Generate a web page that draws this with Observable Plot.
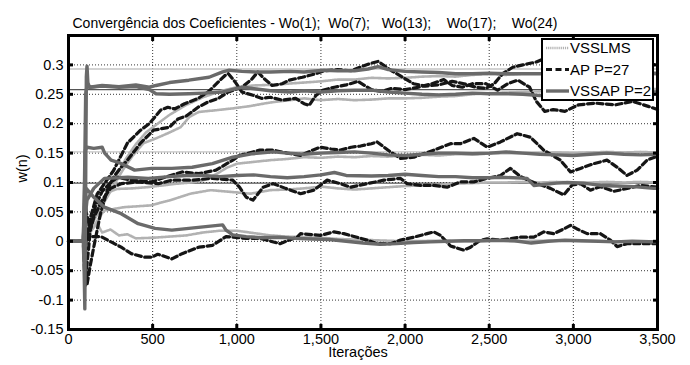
<!DOCTYPE html>
<html><head><meta charset="utf-8">
<script src="https://cdn.jsdelivr.net/npm/d3@7"></script>
<script src="https://cdn.jsdelivr.net/npm/@observablehq/plot@0.6"></script>
<style>
body{margin:0;background:#fff;}
#wrap{position:relative;width:690px;height:365px;font-family:"Liberation Sans",Arial,sans-serif;}
#legend{position:absolute;left:541px;top:38px;}
</style></head>
<body><div id="wrap"></div>
<script>
// ---- axis ticks ----
const xTicks = [0, 500, 1000, 1500, 2000, 2500, 3000, 3500];
const yTicks = [-0.15, -0.1, -0.05, 0, 0.05, 0.1, 0.15, 0.2, 0.25, 0.3];
const trueValues = [0.293, 0.258, 0.152, 0.099];
const titleText = "Convergência dos Coeficientes - Wo(1);\u00a0 Wo(7);\u00a0\u00a0 Wo(13);\u00a0\u00a0\u00a0 Wo(17);\u00a0\u00a0\u00a0 Wo(24)";
const algorithms = ["VSSLMS", "AP P=27", "VSSAP P=2"];

// ---- VSSLMS (iteration, w) ----
const vsslms_a = [[0,0],[90,0],[100,0.03],[130,0.02],[170,0.05],[220,0.08],[280,0.11],[340,0.14],[400,0.165],[460,0.185],[530,0.2],[600,0.215],[700,0.232],[800,0.245],[900,0.255],[1000,0.262],[1100,0.265],[1200,0.266],[1300,0.268],[1400,0.27],[1500,0.272],[1600,0.275],[1700,0.275],[1800,0.278],[1900,0.277],[2000,0.278],[2100,0.28],[2200,0.281],[2300,0.28],[2400,0.283],[2500,0.284],[2600,0.283],[2700,0.285],[2800,0.285],[2900,0.287],[3000,0.286],[3100,0.286],[3200,0.287],[3300,0.287],[3400,0.288],[3500,0.287]];
const vsslms_b = [[0,0],[90,0],[100,0.02],[140,0.03],[200,0.06],[260,0.09],[320,0.12],[380,0.145],[446,0.167],[520,0.175],[600,0.185],[666,0.194],[720,0.212],[775,0.22],[880,0.223],[976,0.226],[1080,0.23],[1177,0.235],[1250,0.238],[1318,0.24],[1400,0.243],[1500,0.24],[1600,0.242],[1700,0.24],[1800,0.241],[1900,0.243],[2000,0.243],[2100,0.244],[2200,0.246],[2300,0.247],[2400,0.25],[2500,0.252],[2600,0.253],[2700,0.254],[2800,0.255],[2900,0.256],[3000,0.257],[3100,0.256],[3200,0.257],[3300,0.258],[3400,0.258],[3500,0.259]];
const vsslms_c = [[0,0],[90,0],[100,0.04],[120,0.03],[150,0.05],[200,0.07],[250,0.085],[289,0.089],[380,0.09],[467,0.092],[560,0.095],[646,0.098],[730,0.1],[804,0.104],[850,0.11],[883,0.115],[940,0.125],[1002,0.132],[1100,0.135],[1200,0.138],[1300,0.14],[1400,0.143],[1500,0.142],[1600,0.144],[1700,0.143],[1800,0.145],[1900,0.144],[2000,0.146],[2100,0.147],[2200,0.146],[2300,0.148],[2400,0.148],[2500,0.149],[2600,0.15],[2700,0.15],[2800,0.15],[2900,0.151],[3000,0.15],[3100,0.151],[3200,0.152],[3300,0.151],[3400,0.152],[3500,0.151]];
const vsslms_d = [[0,0],[90,0],[100,0.02],[130,0.015],[160,0.03],[210,0.052],[329,0.058],[487,0.061],[606,0.07],[725,0.081],[844,0.087],[963,0.084],[1082,0.081],[1200,0.087],[1300,0.088],[1400,0.09],[1500,0.093],[1600,0.09],[1700,0.088],[1800,0.09],[1900,0.092],[2000,0.094],[2100,0.095],[2200,0.096],[2300,0.098],[2400,0.099],[2500,0.1],[2600,0.1],[2700,0.101],[2800,0.1],[2900,0.101],[3000,0.1],[3100,0.1],[3200,0.101],[3300,0.1],[3400,0.101],[3500,0.1]];
const vsslms_e = [[0,0],[90,0],[100,0.03],[115,0.04],[140,0.02],[170,0.03],[200,0.015],[250,0.02],[300,0.01],[350,0.012],[400,0.005],[500,0.006],[600,0.008],[700,0.01],[800,0.015],[900,0.018],[1000,0.018],[1100,0.014],[1200,0.01],[1300,0.008],[1400,0.007],[1500,0.006],[1600,0.004],[1700,0.003],[1800,0.002],[1900,0.001],[2000,0],[2200,0.001],[2400,0],[2600,0],[2800,0.001],[3000,0],[3200,0],[3500,0]];

// ---- AP P=27 ----
const ap_a = [[0,0],[88,0],[100,-0.04],[111,-0.072],[130,-0.04],[150,-0.01],[190,0.047],[230,0.087],[270,0.11],[310,0.125],[350,0.138],[428,0.167],[505,0.189],[600,0.194],[650,0.208],[700,0.213],[770,0.228],[830,0.237],[890,0.243],[950,0.254],[1030,0.262],[1090,0.276],[1125,0.288],[1165,0.276],[1210,0.265],[1270,0.268],[1310,0.274],[1390,0.279],[1470,0.285],[1520,0.29],[1600,0.292],[1680,0.29],[1750,0.298],[1800,0.303],[1840,0.306],[1880,0.298],[1920,0.29],[1980,0.28],[2050,0.268],[2120,0.264],[2200,0.266],[2280,0.272],[2350,0.268],[2420,0.262],[2480,0.26],[2530,0.268],[2580,0.285],[2640,0.296],[2700,0.3],[2780,0.305],[2840,0.312],[2900,0.308],[3000,0.31],[3100,0.306],[3200,0.31],[3300,0.305],[3400,0.302],[3500,0.3]];
const ap_b = [[0,0],[88,0],[95,-0.03],[105,0],[130,0.04],[170,0.08],[230,0.105],[267,0.12],[350,0.167],[428,0.189],[480,0.2],[547,0.223],[590,0.228],[630,0.225],[690,0.234],[770,0.243],[830,0.254],[890,0.271],[930,0.282],[950,0.285],[990,0.271],[1030,0.254],[1100,0.248],[1150,0.243],[1200,0.245],[1270,0.24],[1350,0.243],[1400,0.234],[1430,0.231],[1470,0.248],[1510,0.257],[1580,0.262],[1650,0.266],[1720,0.272],[1760,0.265],[1800,0.258],[1860,0.255],[1920,0.26],[2000,0.258],[2080,0.262],[2160,0.268],[2230,0.275],[2280,0.265],[2340,0.262],[2400,0.268],[2480,0.268],[2550,0.257],[2610,0.268],[2670,0.274],[2740,0.262],[2780,0.238],[2830,0.221],[2880,0.224],[2950,0.221],[3030,0.232],[3130,0.235],[3250,0.232],[3350,0.238],[3450,0.229],[3500,0.224]];
const ap_c = [[0,0],[88,0],[95,-0.05],[100,-0.075],[110,-0.04],[130,0.02],[160,0.06],[200,0.085],[250,0.1],[293,0.109],[373,0.104],[494,0.101],[574,0.109],[675,0.118],[775,0.115],[876,0.121],[976,0.138],[1016,0.146],[1137,0.155],[1217,0.155],[1300,0.15],[1379,0.146],[1450,0.155],[1497,0.16],[1560,0.157],[1616,0.155],[1680,0.16],[1735,0.162],[1800,0.166],[1834,0.169],[1913,0.152],[1973,0.141],[2052,0.143],[2120,0.15],[2171,0.155],[2270,0.166],[2329,0.166],[2409,0.175],[2488,0.16],[2567,0.169],[2666,0.183],[2745,0.177],[2824,0.155],[2923,0.138],[2983,0.118],[3042,0.124],[3121,0.132],[3200,0.138],[3260,0.126],[3319,0.112],[3379,0.121],[3438,0.138],[3500,0.145]];
const ap_d = [[0,0],[88,0],[93,0.04],[97,0.08],[105,0.05],[130,0.02],[150,0.04],[200,0.07],[250,0.09],[313,0.098],[414,0.101],[534,0.098],[614,0.104],[735,0.104],[855,0.107],[976,0.104],[1016,0.092],[1056,0.075],[1096,0.07],[1157,0.092],[1217,0.098],[1290,0.09],[1379,0.081],[1458,0.087],[1537,0.104],[1616,0.098],[1676,0.092],[1775,0.098],[1874,0.104],[1973,0.107],[2012,0.098],[2092,0.095],[2171,0.095],[2250,0.092],[2329,0.101],[2409,0.101],[2488,0.107],[2567,0.112],[2626,0.124],[2686,0.11],[2765,0.1],[2864,0.09],[2943,0.079],[2993,0.096],[3042,0.098],[3101,0.087],[3161,0.093],[3240,0.085],[3320,0.09],[3400,0.095],[3500,0.092]];
const ap_e = [[0,0],[88,0],[92,0.005],[100,0.01],[133,0.008],[193,0.008],[253,-0.001],[313,-0.01],[373,-0.021],[450,-0.027],[494,-0.027],[530,-0.022],[554,-0.024],[614,-0.03],[675,-0.021],[775,-0.01],[855,-0.007],[936,0.008],[1056,0.005],[1137,0.005],[1257,-0.004],[1358,0.007],[1379,0.013],[1497,0.01],[1577,0.016],[1636,0.013],[1775,0.002],[1834,-0.004],[1913,-0.004],[1973,0.002],[2052,0.007],[2131,0.013],[2171,0.016],[2211,0.01],[2270,-0.008],[2349,-0.015],[2389,-0.01],[2448,0.002],[2488,0.004],[2567,0.002],[2686,0.007],[2765,0.007],[2824,0.016],[2883,0.013],[2943,0.021],[2983,0.027],[3022,0.021],[3082,0.013],[3161,0.013],[3220,0.002],[3260,-0.009],[3319,-0.004],[3398,-0.004],[3500,-0.004]];

// ---- VSSAP P=2 ----
const vssap_a = [[0,0],[88,0],[93,-0.05],[97,-0.115],[101,0.05],[106,0.28],[110,0.298],[115,0.27],[125,0.262],[200,0.265],[300,0.263],[400,0.266],[480,0.262],[520,0.265],[600,0.27],[715,0.274],[835,0.279],[916,0.288],[956,0.291],[1030,0.289],[1117,0.288],[1200,0.288],[1318,0.289],[1400,0.288],[1518,0.291],[1600,0.29],[1700,0.29],[1780,0.293],[1840,0.297],[1900,0.292],[2000,0.289],[2100,0.288],[2200,0.287],[2300,0.285],[2400,0.285],[2500,0.286],[2600,0.285],[2700,0.285],[2800,0.285],[2900,0.286],[3000,0.285],[3200,0.285],[3400,0.286],[3500,0.285]];
const vssap_b = [[0,0],[88,0],[95,0.1],[102,0.25],[110,0.265],[125,0.262],[200,0.264],[300,0.262],[400,0.263],[480,0.258],[520,0.251],[600,0.25],[715,0.251],[800,0.252],[916,0.254],[1000,0.26],[1040,0.262],[1117,0.259],[1200,0.256],[1318,0.254],[1400,0.256],[1500,0.254],[1600,0.256],[1700,0.257],[1800,0.257],[1900,0.254],[2000,0.252],[2100,0.25],[2200,0.249],[2300,0.25],[2400,0.252],[2500,0.251],[2600,0.251],[2700,0.25],[2800,0.248],[2900,0.249],[3000,0.251],[3200,0.253],[3400,0.254],[3500,0.254]];
const vssap_c = [[0,0],[88,0],[95,0.08],[100,0.155],[110,0.16],[150,0.158],[200,0.16],[215,0.15],[253,0.138],[300,0.134],[393,0.121],[494,0.124],[614,0.124],[735,0.126],[855,0.132],[976,0.143],[1096,0.149],[1217,0.152],[1300,0.15],[1400,0.148],[1500,0.15],[1600,0.151],[1700,0.152],[1800,0.15],[1900,0.147],[2000,0.146],[2100,0.148],[2200,0.15],[2300,0.15],[2400,0.149],[2500,0.15],[2600,0.152],[2700,0.15],[2800,0.148],[2900,0.147],[3000,0.146],[3100,0.148],[3200,0.15],[3300,0.148],[3400,0.147],[3500,0.148]];
const vssap_d = [[0,0],[88,0],[95,0.03],[110,0.07],[150,0.09],[213,0.107],[300,0.108],[353,0.109],[474,0.107],[600,0.11],[700,0.112],[800,0.112],[900,0.11],[1000,0.112],[1100,0.113],[1200,0.11],[1300,0.108],[1400,0.11],[1500,0.113],[1580,0.117],[1650,0.112],[1800,0.111],[1900,0.112],[2000,0.114],[2100,0.112],[2200,0.11],[2300,0.11],[2400,0.108],[2500,0.108],[2567,0.109],[2725,0.107],[2765,0.095],[2900,0.099],[2963,0.1],[3060,0.099],[3161,0.095],[3260,0.094],[3359,0.093],[3478,0.09],[3500,0.09]];
const vssap_e = [[0,0],[88,0],[95,0.05],[105,0.09],[150,0.075],[213,0.058],[313,0.047],[414,0.03],[514,0.022],[614,0.019],[715,0.022],[815,0.025],[916,0.028],[936,0.019],[976,0.011],[1056,0.008],[1150,0.006],[1250,0.007],[1350,0.005],[1450,0.004],[1550,0.003],[1650,0],[1750,-0.003],[1850,-0.005],[1950,-0.004],[2050,-0.002],[2150,-0.001],[2250,0],[2350,0.001],[2450,0.001],[2550,0.002],[2650,0.001],[2750,-0.003],[2850,0],[2950,0.002],[3050,0.001],[3150,0],[3250,-0.001],[3350,0],[3500,-0.001]];

// ---- build tables ----
function rows(alg, coef, pts){ return pts.map(([x, y]) => ({alg, coef, x, y})); }
const dataVSSLMS = [vsslms_a, vsslms_b, vsslms_c, vsslms_d, vsslms_e].flatMap((p, i) => rows(algorithms[0], i, p));
const dataAP = [ap_a, ap_b, ap_c, ap_d, ap_e].flatMap((p, i) => rows(algorithms[1], i, p));
const dataVSSAP = [vssap_a, vssap_b, vssap_c, vssap_d, vssap_e].flatMap((p, i) => rows(algorithms[2], i, p));

const fmt = d => String(+d.toFixed(2));
const font = "'Liberation Sans', Arial, sans-serif";

const chart = Plot.plot({
  width: 690, height: 365,
  marginLeft: 68, marginRight: 33, marginTop: 35, marginBottom: 36,
  style: {fontFamily: font, fontSize: "14.5px", color: "#000", background: "#fff", overflow: "visible"},
  x: {domain: [0, 3500]},
  y: {domain: [-0.15, 0.35]},
  marks: [
    Plot.gridX(xTicks, {stroke: "#222", strokeOpacity: 0.9, strokeDasharray: "1,2", strokeWidth: 1}),
    Plot.gridY(yTicks, {stroke: "#222", strokeOpacity: 0.9, strokeDasharray: "1,2", strokeWidth: 1}),
    Plot.ruleY(trueValues, {y: d => d, stroke: (d, i) => i % 2 ? "#555" : "#c4c4c4", strokeWidth: 1.3}),
    Plot.line(dataVSSLMS, {x: "x", y: "y", z: "coef", stroke: "#b2b2b2", strokeWidth: 2.6, strokeDasharray: "1.2,0.9"}),
    Plot.line(dataAP, {x: "x", y: "y", z: "coef", stroke: "#151515", strokeWidth: 3.2, strokeDasharray: "6,3.5"}),
    Plot.line(dataVSSAP, {x: "x", y: "y", z: "coef", stroke: "#6a6a6a", strokeWidth: 3.4}),
    Plot.axisX(xTicks, {anchor: "bottom", tickSize: 0, tickPadding: 4, label: null, fontSize: 14.5}),
    Plot.axisX(xTicks, {anchor: "bottom", tickSize: -5, strokeWidth: 3, fill: "none", label: null}),
    Plot.axisX(xTicks, {anchor: "top", tickSize: -5, strokeWidth: 3, fill: "none", label: null}),
    Plot.axisY(yTicks, {anchor: "left", tickSize: 0, tickPadding: 5, tickFormat: fmt, label: null, fontSize: 14.5}),
    Plot.axisY(yTicks, {anchor: "left", tickSize: -5, strokeWidth: 3, fill: "none", label: null}),
    Plot.axisY(yTicks, {anchor: "right", tickSize: -5, strokeWidth: 3, fill: "none", label: null}),
    Plot.frame({stroke: "#000", strokeWidth: 3}),
    Plot.text([titleText], {text: d => d, frameAnchor: "top-left", textAnchor: "start", dx: 4, dy: -17, fontSize: 14}),
    Plot.text(["Iterações"], {text: d => d, frameAnchor: "bottom", dx: -5, dy: 27, fontSize: 14.5}),
    Plot.text(["w(n)"], {text: d => d, frameAnchor: "left", dx: -46, rotate: -90, fontSize: 14.5})
  ]
});
document.getElementById("wrap").appendChild(chart);

// ---- legend (HTML overlay) ----
const lg = d3.select("#wrap").append("svg").attr("id", "legend").attr("width", 114).attr("height", 64)
  .style("font-family", font);
lg.append("rect").attr("x", 1).attr("y", 1).attr("width", 111).attr("height", 61)
  .attr("fill", "#fff").attr("stroke", "#000").attr("stroke-width", 2);
const styles = [
  {stroke: "#b2b2b2", w: 2.6, dash: "1.2,0.9"},
  {stroke: "#151515", w: 3.2, dash: "6,3.5"},
  {stroke: "#6a6a6a", w: 3.4, dash: null}
];
algorithms.forEach((name, i) => {
  const cy = 10 + i * 21.5;
  lg.append("line").attr("x1", 5).attr("x2", 28).attr("y1", cy).attr("y2", cy)
    .attr("stroke", styles[i].stroke).attr("stroke-width", styles[i].w)
    .attr("stroke-dasharray", styles[i].dash);
  lg.append("text").attr("x", 29).attr("y", cy).attr("dy", "0.36em")
    .attr("font-size", 15).text(name);
});
</script>
</body></html>
